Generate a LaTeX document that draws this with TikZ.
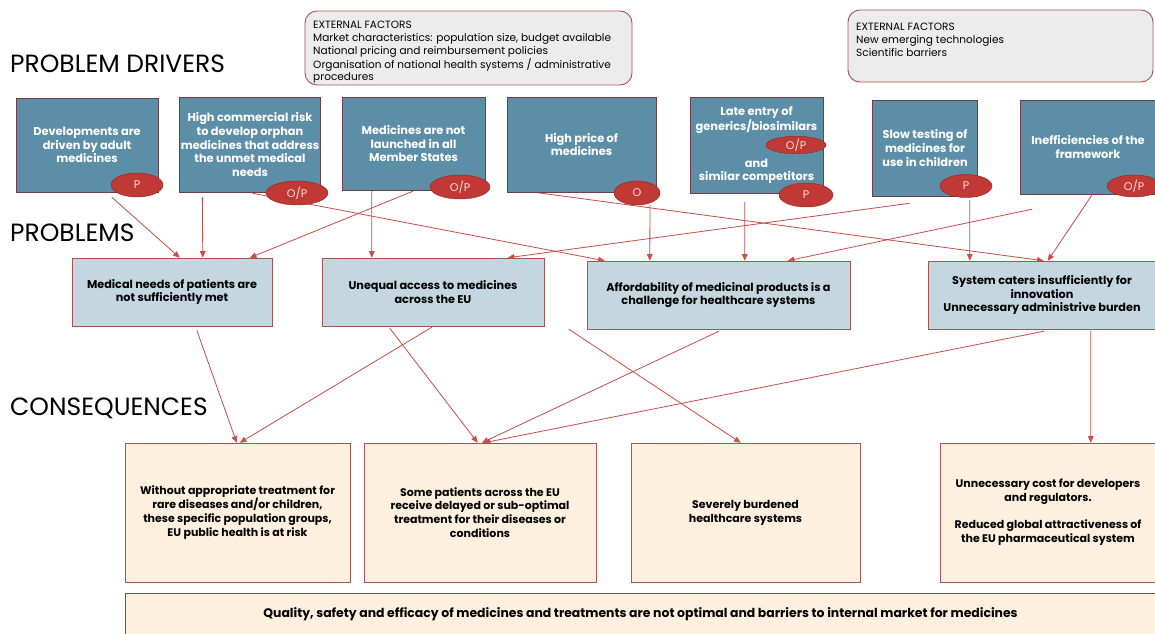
\documentclass[tikz,border=0pt]{standalone}
\usepackage{fontspec}
\setmainfont{Poppins}
\usepackage{tikz}
\usetikzlibrary{arrows.meta,calc,shapes.geometric}
\pgfdeclarelayer{bg}
\pgfsetlayers{bg,main}

\definecolor{drvblue}{RGB}{92,142,168}
\definecolor{drvline}{RGB}{112,62,72}
\definecolor{badgered}{RGB}{192,57,52}
\definecolor{badgeline}{RGB}{150,40,40}
\definecolor{badgetxt}{RGB}{252,222,220}
\definecolor{prbblue}{RGB}{196,215,224}
\definecolor{boxline}{RGB}{168,82,82}
\definecolor{cnscream}{RGB}{253,240,222}
\definecolor{extgray}{RGB}{236,236,236}
\definecolor{linkred}{RGB}{200,78,72}

\begin{document}
\begin{tikzpicture}[x=0.03cm,y=-0.03cm,
	title/.style={anchor=west, inner sep=0pt, font=\fontsize{21.3}{25}\selectfont},
	extbox/.style={draw=boxline, fill=extgray, rounded corners=0.36cm, line width=0.8pt},
	exttxt/.style={anchor=north west, inner sep=0pt, align=left, font=\fontsize{9}{10.9}\selectfont},
	drv/.style={draw=drvline, fill=drvblue, text=white, align=center, inner sep=1pt, font=\bfseries\fontsize{9.7}{11.7}\selectfont},
	badge/.style={ellipse, draw=badgeline, fill=badgered, text=badgetxt, inner sep=0pt, font=\fontsize{9.5}{9.5}\selectfont},
	prb/.style={draw=boxline, fill=prbblue, align=center, minimum height=2.04cm, font=\bfseries\fontsize{9.6}{11.6}\selectfont},
	cns/.style={draw=boxline, fill=cnscream, align=center, minimum height=4.17cm, font=\bfseries\fontsize{9.4}{11.8}\selectfont},
	link/.style={draw=linkred, line width=0.7pt, -{Triangle[length=0.2cm,width=0.17cm]}}]
	\useasboundingbox (0,0) rectangle (1155,633);

	%% Row titles
	\node[title] (tdrv) at (10,64) {PROBLEM DRIVERS};
	\node[title] (tprb) at (10,233) {PROBLEMS};
	\node[title] (tcns) at (10,408) {CONSEQUENCES};

	%% External factors
	\node[extbox, minimum width=9.81cm, minimum height=2.22cm] (ext1) at (468.5,48) {};
	\node[exttxt] (ext1t) at (313,21) {EXTERNAL FACTORS\\Market characteristics: population size, budget available\\National pricing and reimbursement policies\\Organisation of national health systems / administrative\\procedures};
	\node[extbox, minimum width=9.15cm, minimum height=2.16cm] (ext2) at (1000.5,46) {};
	\node[exttxt] (ext2t) at (856,23) {EXTERNAL FACTORS\\New emerging technologies\\Scientific barriers};

	%% Problem drivers
	\node[drv, minimum width=4.26cm, minimum height=2.82cm] (d1) at (87,145) {Developments are\\driven by adult\\medicines};
	\node[drv, minimum width=4.2cm, minimum height=2.85cm] (d2) at (250,144.5) {High commercial risk\\to develop orphan\\medicines that address\\the unmet medical\\needs};
	\node[drv, minimum width=4.29cm, minimum height=2.79cm] (d3) at (413.5,143.5) {Medicines are not\\launched in all\\Member States};
	\node[drv, minimum width=4.47cm, minimum height=2.85cm] (d4) at (581.5,144.5) {High price of\\medicines};
	\node[drv, minimum width=3.99cm, minimum height=2.88cm] (d5) at (756.5,145) {Late entry of\\generics/biosimilars\\[0.7cm]and\\similar competitors};
	\node[drv, minimum width=3.15cm, minimum height=2.88cm] (d6) at (925,148) {Slow testing of\\medicines for\\use in children};
	\node[drv, minimum width=4.08cm, minimum height=2.82cm] (d7) at (1088,147) {Inefficiencies of the\\framework};

	% O / P badges
	\node[badge, minimum width=1.56cm, minimum height=0.72cm] (bd1) at (137,185) {P};
	\node[badge, minimum width=1.86cm, minimum height=0.72cm] (bd2) at (297,193) {O/P};
	\node[badge, minimum width=1.8cm, minimum height=0.72cm] (bd3) at (460,187) {O/P};
	\node[badge, minimum width=1.38cm, minimum height=0.72cm] (bd4) at (637,193) {O};
	\node[badge, minimum width=1.8cm, minimum height=0.45cm] (bd5a) at (796,145) {O/P};
	\node[badge, minimum width=1.62cm, minimum height=0.72cm] (bd5b) at (806,195) {P};
	\node[badge, minimum width=1.56cm, minimum height=0.69cm] (bd6) at (966,186) {P};
	\node[badge, minimum width=1.62cm, minimum height=0.66cm] (bd7) at (1134,186) {O/P};

	%% Problems
	\node[prb, minimum width=6cm] (p1) at (172,292) {Medical needs of patients are\\not sufficiently met};
	\node[prb, minimum width=6.66cm] (p2) at (433,292) {Unequal access to medicines\\across the EU};
	\node[prb, minimum width=7.89cm] (p3) at (718.5,295) {Affordability of medicinal products is a\\challenge for healthcare systems};
	\node[prb, minimum width=6.84cm] (p4) at (1042,295) {System caters insufficiently for\\innovation\\Unnecessary administrive burden};

	%% Consequences
	\node[cns, minimum width=6.75cm] (c1) at (237.5,512.5) {Without appropriate treatment for\\rare diseases and/or children,\\these specific population groups,\\EU public health is at risk};
	\node[cns, minimum width=6.96cm] (c2) at (480,512.5) {Some patients across the EU\\receive delayed or sub-optimal\\treatment for their diseases or\\conditions};
	\node[cns, minimum width=6.87cm] (c3) at (745.5,512.5) {Severely burdened\\healthcare systems};
	\node[cns, minimum width=6.48cm] (c4) at (1048,512.5) {Unnecessary cost for developers\\and regulators.\\[0.4cm]Reduced global attractiveness of\\the EU pharmaceutical system};
	\node[draw=black!65, fill=cnscream, minimum width=30.93cm, minimum height=1.26cm, font=\bfseries\fontsize{10.6}{12}\selectfont] (q) at (640.5,614) {Quality, safety and efficacy of medicines and treatments are not optimal and barriers to internal market for medicines};

	\begin{pgfonlayer}{bg}
		%% Drivers to problems
		\draw[link] ($(d1.south west)+(96,5)$) -- ($(p1.north west)+(108,0)$);
		\draw[link] ($(d2.south west)+(23,5)$) -- ($(p1.north west)+(131,0)$);
		\draw[link] ($(d3.south west)+(71,1)$) -- ($(p1.north west)+(178,0)$);
		\draw[link] ($(d3.south west)+(30,1)$) -- ($(p2.north west)+(50,0)$);
		\draw[link] ($(d6.south west)+(37.5,7)$) -- ($(p2.north west)+(186,0)$);
		\draw[link] ($(d2.south west)+(73,1)$) -- ($(p3.north west)+(18,0)$);
		\draw[link] ($(bd4.south)+(13,0)$) -- ($(p3.north west)+(63,0)$);
		\draw[link] ($(d4.south west)+(20,-1)$) -- ($(p4.north west)+(116,0)$);
		\draw[link] ($(d5.south west)+(55,9)$) -- ($(p3.north west)+(158,0)$);
		\draw[link] ($(d7.south west)+(12,15)$) -- ($(p3.north west)+(201,0)$);
		\draw[link] ($(d6.south west)+(97.5,4)$) -- ($(p4.north west)+(42,0)$);
		\draw[link] ($(d7.south west)+(72,1)$) -- ($(p4.north west)+(120,0)$);

		%% Problems to consequences
		\draw[link] ($(p1.south west)+(125,4)$) -- ($(c1.north west)+(112,0)$);
		\draw[link] ($(p2.south west)+(110,1)$) -- ($(c1.north west)+(115,0)$);
		\draw[link] ($(p2.south west)+(68,2)$) -- ($(c2.north west)+(114,0)$);
		\draw[link] ($(p3.south west)+(132,2)$) -- ($(c2.north west)+(118,0)$);
		\draw[link] ($(p4.south west)+(116,2)$) -- ($(c2.north west)+(120,0)$);
		\draw[link] ($(p3.south west)+(-18,0)$) -- ($(c3.north west)+(110,0)$);
		\draw[link] ($(p4.south west)+(163,2)$) -- ($(c4.north west)+(151,0)$);
	\end{pgfonlayer}
\end{tikzpicture}
\end{document}
